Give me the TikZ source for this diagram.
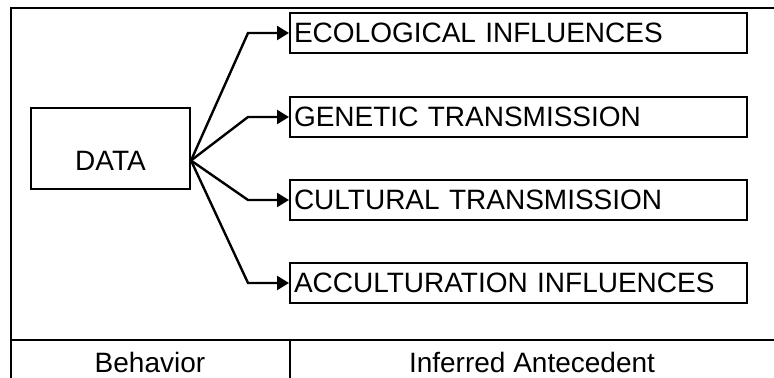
\documentclass[tikz,border=0pt]{standalone}
\usepackage{fontspec}
\setmainfont{Liberation Sans}
\usetikzlibrary{arrows.meta}

\begin{document}
\begin{tikzpicture}[
  frame/.style={line width=1pt, draw=black},
  databox/.style={draw=black, line width=1pt, minimum width=79.5pt, minimum height=40.5pt,
    inner sep=0pt, text height=22pt, text depth=0pt, font=\fontsize{14}{16}\selectfont},
  causebox/.style={draw=black, line width=1pt, text width=224.5pt, inner xsep=2pt,
    minimum height=20pt, align=left, font=\fontsize{14}{16}\selectfont},
  colhead/.style={font=\fontsize{14}{16}\selectfont},
  feed/.style={line width=1.2pt, draw=black, -{Triangle[length=6pt,width=7pt]}},
  x=0.5pt, y=-0.5pt  % reference pixel grid, y pointing down
]
\useasboundingbox (0,0) rectangle (774,378);

% ---------- outer frame and column rule ----------
\draw[frame] (774,8) -- (11,8) -- (11,378);
\draw[frame] (11,340) -- (774,340);
\draw[frame] (290,340) -- (290,378);

% ---------- behaviour side ----------
\node[databox] (data) at (110.5,148.5) {DATA};

% ---------- antecedents ----------
\node[causebox, anchor=west] (eco) at (289,33)  {ECOLOGICAL INFLUENCES};
\node[causebox, anchor=west] (gen) at (289,117) {GENETIC TRANSMISSION};
\node[causebox, anchor=west] (cul) at (289,200) {CULTURAL TRANSMISSION};
\node[causebox, anchor=west] (acc) at (289,283) {ACCULTURATION INFLUENCES};

% ---------- inference arrows ----------
\coordinate (fan) at ([yshift=-6pt]data.east);
\foreach \tgt in {eco,gen,cul,acc}
  \draw[feed] (fan) -- ([xshift=-20.5pt]\tgt.west) -- (\tgt.west);

% ---------- column heads ----------
\node[colhead] (behav) at (150,362) {Behavior};
\node[colhead] (infer) at (532,362) {Inferred Antecedent};

\end{tikzpicture}
\end{document}
